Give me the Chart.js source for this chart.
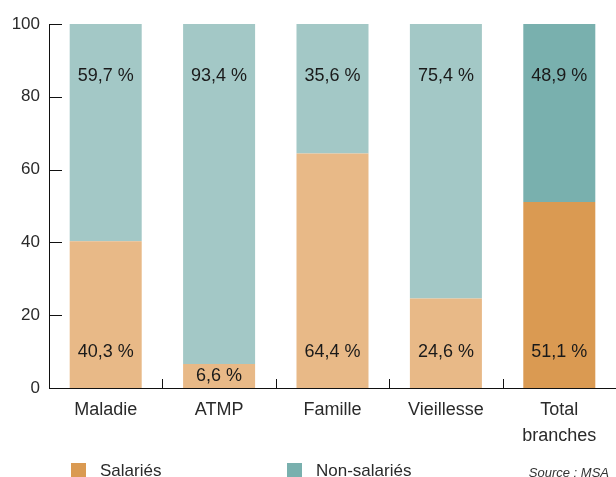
<!DOCTYPE html>
<html lang="fr">
<head>
<meta charset="utf-8">
<title>Salariés / Non-salariés par branche</title>
<script src="https://cdn.jsdelivr.net/npm/chart.js@4/dist/chart.umd.min.js"></script>
<style>
  html, body { margin: 0; padding: 0; background: #fff; }
  #wrap { position: relative; width: 616px; height: 477px; font-family: "Liberation Sans", Arial, sans-serif; color: #2a2a2a; }
  #chart { position: absolute; left: 0; top: 0; }
  .legend-item { position: absolute; top: 462px; height: 17px; display: flex; align-items: center; font-size: 17px; }
  .legend-item .sw { width: 15px; height: 15px; margin-right: 14px; }
  #source { position: absolute; right: 7px; top: 465px; font-size: 13px; font-style: italic; color: #333; }
</style>
</head>
<body>
<div id="wrap">
  <canvas id="chart" width="616" height="477"></canvas>
  <div id="legend"></div>
  <div id="source">Source : MSA</div>
</div>
<script>
'use strict';

// ─── Data ────────────────────────────────────────────────────────────────────

const CATEGORIES   = ['Maladie', 'ATMP', 'Famille', 'Vieillesse', ['Total', 'branches']];
const SALARIES     = [40.3, 6.6, 64.4, 24.6, 51.1];
const NON_SALARIES = [59.7, 93.4, 35.6, 75.4, 48.9];
const Y_TICKS      = [0, 20, 40, 60, 80, 100];

// the "Total branches" bar uses the darker shades
const SAL_COLORS    = ['#E8B987', '#E8B987', '#E8B987', '#E8B987', '#DA9A52'];
const NONSAL_COLORS = ['#A3C8C6', '#A3C8C6', '#A3C8C6', '#A3C8C6', '#79B0AE'];

const fmtPct = v => v.toFixed(1).replace('.', ',') + ' %';

// ─── Plugins ─────────────────────────────────────────────────────────────────

// short inward tick marks on both axes
const axisTicks = {
  id: 'axisTicks',
  afterDatasetsDraw(chart) {
    const { ctx, chartArea: a, scales: { x, y } } = chart;
    ctx.save();
    ctx.strokeStyle = '#111';
    ctx.lineWidth = 1;
    ctx.beginPath();
    Y_TICKS.forEach(v => {
      if (v === 0) return;
      const py = Math.round(y.getPixelForValue(v)) + 0.5;
      ctx.moveTo(a.left, py);
      ctx.lineTo(a.left + 13, py);
    });
    for (let i = 1; i < CATEGORIES.length; i++) {
      const px = Math.round((x.getPixelForValue(i - 1) + x.getPixelForValue(i)) / 2) + 0.5;
      ctx.moveTo(px, a.bottom);
      ctx.lineTo(px, a.bottom - 9);
    }
    ctx.stroke();
    ctx.restore();
  },
};

// percentage labels inside the bars
const barLabels = {
  id: 'barLabels',
  afterDatasetsDraw(chart) {
    const { ctx, scales: { x, y } } = chart;
    ctx.save();
    ctx.font = '18px "Liberation Sans", Arial, sans-serif';
    ctx.fillStyle = '#1a1a1a';
    ctx.textAlign = 'center';
    ctx.textBaseline = 'middle';
    CATEGORIES.forEach((c, i) => {
      const px = x.getPixelForValue(i);
      const s = SALARIES[i];
      ctx.fillText(fmtPct(s), px, y.getPixelForValue(Math.min(9.9, s / 2)));
      ctx.fillText(fmtPct(NON_SALARIES[i]), px, y.getPixelForValue(85.7));
    });
    ctx.restore();
  },
};

// ─── Chart ───────────────────────────────────────────────────────────────────

const tickFont = { family: '"Liberation Sans", Arial, sans-serif', size: 17, lineHeight: 1.2 };

new Chart(document.getElementById('chart'), {
  type: 'bar',
  data: {
    labels: CATEGORIES,
    datasets: [
      { label: 'Salariés',     data: SALARIES,     backgroundColor: SAL_COLORS },
      { label: 'Non-salariés', data: NON_SALARIES, backgroundColor: NONSAL_COLORS },
    ],
  },
  options: {
    responsive: false,
    animation: false,
    barPercentage: 0.635,
    categoryPercentage: 1,
    layout: { padding: { top: 24, left: 0, right: 0, bottom: 29 } },
    plugins: {
      legend: { display: false },
      tooltip: { enabled: false },
    },
    scales: {
      x: {
        stacked: true,
        offset: true,
        grid: { display: false, drawTicks: false },
        border: { display: true, color: '#111', width: 1 },
        ticks: { font: { ...tickFont, size: 18, lineHeight: 1.45 }, color: '#2a2a2a', padding: 9, maxRotation: 0, autoSkip: false },
        afterFit: s => { s.height = 60; },
      },
      y: {
        stacked: true,
        min: 0,
        max: 100,
        grid: { display: false, drawTicks: false },
        border: { display: true, color: '#111', width: 1 },
        ticks: { stepSize: 20, font: tickFont, color: '#2a2a2a', padding: 9 },
        afterFit: s => { s.width = 49; },
      },
    },
  },
  plugins: [axisTicks, barLabels],
});

// ─── Legend (HTML, below the plot) ───────────────────────────────────────────

const LEGEND_NAMES  = ['Salariés', 'Non-salariés'];
const LEGEND_COLORS = ['#DA9A52', '#79B0AE'];
const LEGEND_LEFT   = [71, 287];
LEGEND_NAMES.forEach((name, i) => {
  const item = document.createElement('div');
  item.className = 'legend-item';
  item.style.left = LEGEND_LEFT[i] + 'px';
  item.innerHTML = `<span class="sw" style="background:${LEGEND_COLORS[i]}"></span><span>${name}</span>`;
  document.getElementById('legend').appendChild(item);
});
</script>
</body>
</html>
